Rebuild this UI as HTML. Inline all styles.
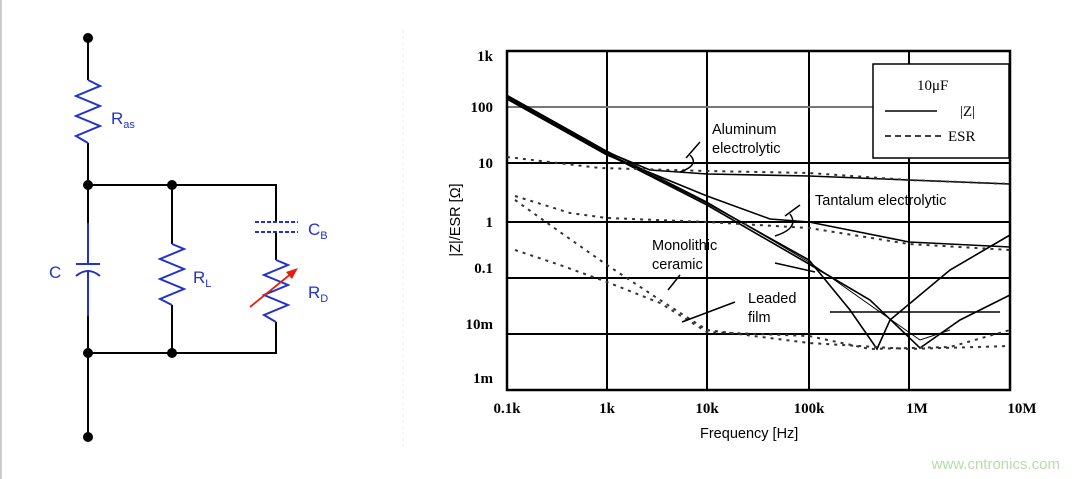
<!DOCTYPE html>
<html><head><meta charset="utf-8"><style>
html,body{margin:0;padding:0;background:#fff;}
svg{display:block;}
</style></head><body>
<svg width="1080" height="479" viewBox="0 0 1080 479" xmlns="http://www.w3.org/2000/svg">
<rect x="0" y="0" width="1080" height="479" fill="#fff"/>
<line x1="1" y1="0" x2="1" y2="479" stroke="#ccc" stroke-width="2"/>
<line x1="403" y1="30" x2="403" y2="450" stroke="#eee" stroke-width="1" stroke-dasharray="3,3"/>
<!-- circuit -->
<g stroke="#000" stroke-width="2" fill="none">
<line x1="88" y1="38" x2="88" y2="80"/>
<line x1="88" y1="143" x2="88" y2="223"/>
<line x1="88" y1="316" x2="88" y2="437"/>
<polyline points="88,185 276,185 276,222"/>
<line x1="276" y1="232" x2="276" y2="260"/>
<polyline points="276,322 276,353 88,353"/>
<line x1="172" y1="185" x2="172" y2="244"/>
<line x1="172" y1="305" x2="172" y2="353"/>
</g>
<g fill="#000">
<circle cx="88" cy="38" r="5"/><circle cx="88" cy="185" r="5"/><circle cx="172" cy="185" r="5"/>
<circle cx="88" cy="353" r="5"/><circle cx="172" cy="353" r="5"/><circle cx="88" cy="437" r="5"/>
</g>
<g stroke="#2233cc" stroke-width="2" fill="none">
<polyline points="88,80 100,86 76,96 100,106 76,116 100,126 76,136 88,143"/>
<line x1="88" y1="223" x2="88" y2="264"/>
<line x1="76" y1="264" x2="100" y2="264"/>
<path d="M76,276 Q88,266 100,276"/>
<line x1="88" y1="270" x2="88" y2="316"/>
<polyline points="172,244 184,249 160,259 184,269 160,279 184,289 160,299 172,305"/>
<line x1="255" y1="222" x2="298" y2="222" stroke-dasharray="4,2"/>
<line x1="255" y1="232" x2="298" y2="232" stroke-dasharray="4,2"/>
<polyline points="276,260 288,265 264,275 288,285 264,295 288,305 264,315 276,322"/>
</g>
<line x1="250" y1="307" x2="292" y2="273" stroke="#e02010" stroke-width="1.8"/>
<polygon points="298,268 286,272 292,279" fill="#e02010"/>
<g font-family="Liberation Sans, sans-serif" fill="#2233cc" font-size="17">
<text x="111" y="124">R<tspan font-size="11" dy="4">as</tspan></text>
<text x="49" y="278">C</text>
<text x="193" y="283">R<tspan font-size="11" dy="4">L</tspan></text>
<text x="308" y="235">C<tspan font-size="11" dy="4">B</tspan></text>
<text x="308" y="298">R<tspan font-size="11" dy="4">D</tspan></text>
</g>
<!-- chart grid -->
<g stroke="#000" stroke-width="2">
<line x1="607" y1="51" x2="607" y2="390"/><line x1="707" y1="51" x2="707" y2="390"/>
<line x1="809" y1="51" x2="809" y2="390"/><line x1="909" y1="51" x2="909" y2="390"/>
<line x1="507" y1="107" x2="1010" y2="107" stroke="#777"/><line x1="507" y1="163" x2="1010" y2="163"/>
<line x1="507" y1="222" x2="1010" y2="222"/><line x1="507" y1="278" x2="1010" y2="278"/>
<line x1="507" y1="334" x2="1010" y2="334"/>
</g>
<rect x="507" y="51" width="503" height="339" fill="none" stroke="#000" stroke-width="2.5"/>
<!-- legend -->
<rect x="873" y="64" width="136" height="94" fill="#fff" stroke="#000" stroke-width="1.5"/>
<g font-family="Liberation Serif, serif" font-size="15" fill="#000">
<text x="917" y="90">10μF</text>
<text x="960" y="116">|Z|</text>
<text x="948" y="141">ESR</text>
</g>
<line x1="885" y1="111" x2="937" y2="111" stroke="#000" stroke-width="1.5"/>
<line x1="885" y1="136" x2="942" y2="136" stroke="#000" stroke-width="1.5" stroke-dasharray="6,4"/>
<!-- curves -->
<g fill="none" stroke="#000" stroke-width="1.6">
<polyline points="507,96 607,152 650,170 707,174 809,176 909,180 1010,184"/>
<polyline points="507,99 607,155 707,196 770,219 809,222 909,242 1010,247"/>
<polyline points="507,97 607,153 707,203 809,260 850,310 877,349 890,320 950,270 1010,235"/>
<polyline points="507,98 607,154 707,205 809,264 870,300 920,348 960,320 1010,295"/>
<polyline points="507,95 607,151 707,202 809,262 870,305 920,340 950,330" stroke-width="1"/>
<polyline points="830,312 890,312 1000,312" stroke-width="1.5"/>
</g>
<g fill="none" stroke="#333" stroke-width="2" stroke-dasharray="3,5">
<polyline points="507,157 600,168 707,171 809,173 909,180 1010,184"/>
<polyline points="515,196 570,213 607,218 707,222 809,228 909,244 1010,250"/>
<polyline points="515,200 560,232 607,265 660,300 707,330 809,343 909,349 1010,346"/>
<polyline points="515,250 560,265 607,282 660,303 707,332 809,336 870,349 950,347 1010,330"/>
</g>
<!-- annotations -->
<g fill="none" stroke="#000" stroke-width="1.5">
<line x1="700" y1="142" x2="686" y2="158"/><path d="M690,155 Q700,165 680,172"/>
<line x1="800" y1="205" x2="785" y2="216"/><path d="M790,214 Q800,228 775,236"/>
<line x1="680" y1="275" x2="668" y2="290"/>
<line x1="735" y1="302" x2="682" y2="322"/>
<line x1="775" y1="263" x2="815" y2="272"/>
</g>
<g font-family="Liberation Sans, sans-serif" font-size="14.5" fill="#000">
<text x="712" y="134">Aluminum</text><text x="712" y="153">electrolytic</text>
<text x="815" y="205">Tantalum electrolytic</text>
<text x="652" y="250">Monolithic</text><text x="652" y="269">ceramic</text>
<text x="748" y="303">Leaded</text><text x="748" y="322">film</text>
<text x="700" y="438">Frequency [Hz]</text>
<text transform="translate(460,220) rotate(-90)" text-anchor="middle">|Z|/ESR [Ω]</text>
</g>
<g font-family="Liberation Serif, serif" font-size="15" font-weight="bold" fill="#000" text-anchor="end">
<text x="493" y="61">1k</text><text x="493" y="112">100</text><text x="493" y="168">10</text>
<text x="493" y="227">1</text><text x="493" y="273">0.1</text><text x="493" y="329">10m</text><text x="493" y="383">1m</text>
</g>
<g font-family="Liberation Serif, serif" font-size="15" font-weight="bold" fill="#000" text-anchor="middle">
<text x="507" y="413">0.1k</text><text x="607" y="413">1k</text><text x="707" y="413">10k</text>
<text x="809" y="413">100k</text><text x="917" y="413">1M</text><text x="1022" y="413">10M</text>
</g>
<text x="1060" y="469" text-anchor="end" font-family="Liberation Sans, sans-serif" font-size="15" fill="#b8dca8">www.cntronics.com</text>
</svg>
</body></html>
